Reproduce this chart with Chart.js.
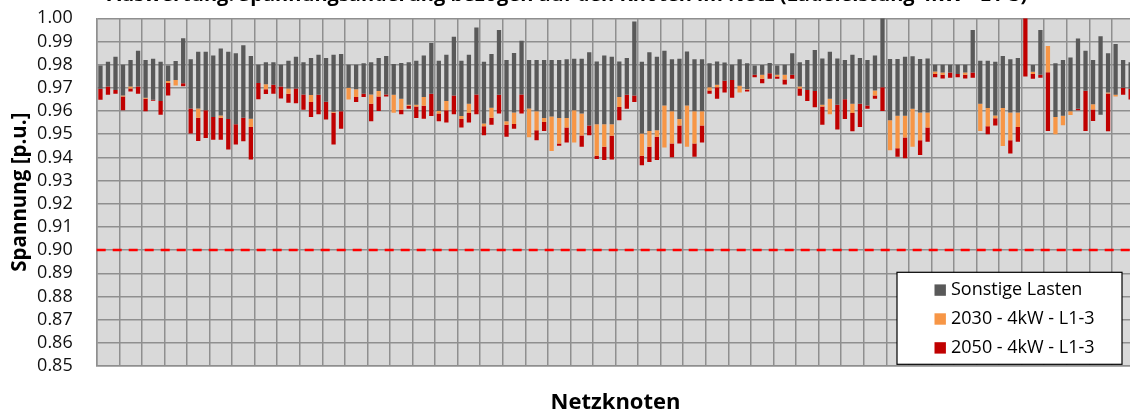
<!DOCTYPE html>
<html>
<head>
<meta charset="utf-8">
<script src="https://cdn.jsdelivr.net/npm/chart.js@4"></script>
<style>
  html, body { margin: 0; padding: 0; background: #fff; overflow: hidden; width: 1130px; height: 412px; }
  #wrap { position: absolute; left: 0; top: -20px; width: 1150px; height: 432px; }
</style>
</head>
<body>
<div id="wrap"><canvas id="chart" width="1150" height="432"></canvas></div>
<script>

// Voltage per node [p.u.]: top of the grey bar, then where each load case ends
const spannungOben = [
  0.9796, 0.9813, 0.9834, 0.9800, 0.9820, 0.9860, 0.9820, 0.9826, 0.9813, 0.9796,
  0.9816, 0.9914, 0.9823, 0.9856, 0.9856, 0.9840, 0.9870, 0.9856, 0.9849, 0.9884,
  0.9837, 0.9800, 0.9810, 0.9810, 0.9800, 0.9817, 0.9834, 0.9810, 0.9829, 0.9843,
  0.9829, 0.9843, 0.9846, 0.9800, 0.9800, 0.9806, 0.9810, 0.9829, 0.9837, 0.9803,
  0.9807, 0.9810, 0.9817, 0.9840, 0.9893, 0.9817, 0.9843, 0.9920, 0.9817, 0.9843,
  0.9960, 0.9813, 0.9846, 0.9949, 0.9820, 0.9850, 0.9903, 0.9820, 0.9820, 0.9820,
  0.9820, 0.9820, 0.9823, 0.9826, 0.9826, 0.9853, 0.9814, 0.9840, 0.9834, 0.9814,
  0.9829, 0.9986, 0.9813, 0.9853, 0.9834, 0.9860, 0.9823, 0.9826, 0.9857, 0.9823,
  0.9823, 0.9806, 0.9814, 0.9809, 0.9800, 0.9823, 0.9806, 0.9796, 0.9799, 0.9807,
  0.9796, 0.9800, 0.9849, 0.9810, 0.9820, 0.9863, 0.9827, 0.9856, 0.9827, 0.9820,
  0.9843, 0.9829, 0.9820, 0.9840, 1.0000, 0.9824, 0.9824, 0.9834, 0.9836, 0.9824,
  0.9827, 0.9800, 0.9800, 0.9800, 0.9800, 0.9800, 0.9950, 0.9817, 0.9817, 0.9813,
  0.9837, 0.9823, 0.9829, 1.0000, 0.9799, 0.9950, 0.9881, 0.9806, 0.9820, 0.9831,
  0.9913, 0.9860, 0.9820, 0.9923, 0.9849, 0.9889, 0.9820, 0.9810
];

const sonstigeBis = [
  0.9696, 0.9706, 0.9691, 0.9667, 0.9706, 0.9706, 0.9657, 0.9649, 0.9643, 0.9729,
  0.9734, 0.9720, 0.9611, 0.9611, 0.9603, 0.9574, 0.9581, 0.9566, 0.9543, 0.9571,
  0.9567, 0.9721, 0.9716, 0.9713, 0.9706, 0.9697, 0.9697, 0.9671, 0.9669, 0.9670,
  0.9640, 0.9597, 0.9599, 0.9700, 0.9694, 0.9674, 0.9671, 0.9686, 0.9671, 0.9670,
  0.9653, 0.9627, 0.9627, 0.9660, 0.9674, 0.9600, 0.9643, 0.9667, 0.9579, 0.9631,
  0.9671, 0.9546, 0.9614, 0.9670, 0.9556, 0.9594, 0.9671, 0.9611, 0.9599, 0.9570,
  0.9576, 0.9570, 0.9570, 0.9603, 0.9589, 0.9537, 0.9543, 0.9543, 0.9543, 0.9660,
  0.9670, 0.9667, 0.9503, 0.9514, 0.9517, 0.9624, 0.9599, 0.9566, 0.9624, 0.9599,
  0.9599, 0.9703, 0.9713, 0.9731, 0.9734, 0.9709, 0.9694, 0.9756, 0.9757, 0.9763,
  0.9756, 0.9757, 0.9756, 0.9706, 0.9691, 0.9686, 0.9627, 0.9653, 0.9627, 0.9651,
  0.9631, 0.9631, 0.9624, 0.9689, 0.9703, 0.9560, 0.9580, 0.9580, 0.9610, 0.9594,
  0.9594, 0.9770, 0.9766, 0.9766, 0.9760, 0.9766, 0.9766, 0.9631, 0.9613, 0.9581,
  0.9613, 0.9594, 0.9594, 1.0000, 0.9769, 0.9756, 0.9881, 0.9574, 0.9580, 0.9599,
  0.9610, 0.9687, 0.9629, 0.9584, 0.9680, 0.9670, 0.9700, 0.9696
];

const bis2030 = [
  0.9696, 0.9706, 0.9691, 0.9663, 0.9697, 0.9706, 0.9653, 0.9649, 0.9643, 0.9721,
  0.9710, 0.9720, 0.9611, 0.9571, 0.9603, 0.9574, 0.9571, 0.9566, 0.9543, 0.9571,
  0.9531, 0.9721, 0.9694, 0.9713, 0.9706, 0.9674, 0.9697, 0.9671, 0.9639, 0.9670,
  0.9640, 0.9593, 0.9599, 0.9650, 0.9660, 0.9674, 0.9631, 0.9663, 0.9671, 0.9593,
  0.9606, 0.9623, 0.9620, 0.9623, 0.9674, 0.9589, 0.9603, 0.9667, 0.9566, 0.9591,
  0.9671, 0.9534, 0.9571, 0.9670, 0.9541, 0.9544, 0.9671, 0.9487, 0.9517, 0.9553,
  0.9427, 0.9460, 0.9529, 0.9464, 0.9494, 0.9537, 0.9407, 0.9446, 0.9493, 0.9617,
  0.9670, 0.9667, 0.9407, 0.9446, 0.9489, 0.9443, 0.9460, 0.9537, 0.9446, 0.9460,
  0.9537, 0.9689, 0.9703, 0.9731, 0.9734, 0.9680, 0.9691, 0.9756, 0.9739, 0.9763,
  0.9749, 0.9736, 0.9756, 0.9697, 0.9691, 0.9686, 0.9620, 0.9586, 0.9627, 0.9651,
  0.9591, 0.9631, 0.9624, 0.9667, 0.9703, 0.9431, 0.9439, 0.9486, 0.9446, 0.9474,
  0.9529, 0.9760, 0.9756, 0.9766, 0.9760, 0.9756, 0.9766, 0.9514, 0.9534, 0.9569,
  0.9449, 0.9474, 0.9531, 1.0000, 0.9760, 0.9756, 0.9767, 0.9500, 0.9539, 0.9583,
  0.9610, 0.9687, 0.9607, 0.9584, 0.9676, 0.9663, 0.9700, 0.9696
];

const bis2050 = [
  0.9649, 0.9670, 0.9674, 0.9603, 0.9684, 0.9674, 0.9599, 0.9644, 0.9584, 0.9667,
  0.9710, 0.9707, 0.9503, 0.9471, 0.9484, 0.9476, 0.9476, 0.9434, 0.9456, 0.9470,
  0.9391, 0.9651, 0.9673, 0.9674, 0.9654, 0.9636, 0.9634, 0.9606, 0.9574, 0.9586,
  0.9563, 0.9456, 0.9524, 0.9650, 0.9639, 0.9660, 0.9556, 0.9600, 0.9663, 0.9593,
  0.9586, 0.9610, 0.9570, 0.9567, 0.9579, 0.9556, 0.9550, 0.9586, 0.9529, 0.9550,
  0.9586, 0.9496, 0.9541, 0.9589, 0.9489, 0.9524, 0.9589, 0.9487, 0.9474, 0.9514,
  0.9427, 0.9450, 0.9464, 0.9464, 0.9446, 0.9496, 0.9393, 0.9389, 0.9391, 0.9560,
  0.9610, 0.9639, 0.9366, 0.9380, 0.9389, 0.9443, 0.9401, 0.9460, 0.9446, 0.9403,
  0.9464, 0.9674, 0.9653, 0.9680, 0.9657, 0.9680, 0.9684, 0.9746, 0.9720, 0.9739,
  0.9739, 0.9714, 0.9739, 0.9666, 0.9643, 0.9616, 0.9541, 0.9586, 0.9520, 0.9566,
  0.9513, 0.9531, 0.9610, 0.9653, 0.9600, 0.9431, 0.9403, 0.9396, 0.9446, 0.9410,
  0.9467, 0.9746, 0.9740, 0.9743, 0.9746, 0.9740, 0.9743, 0.9514, 0.9500, 0.9537,
  0.9449, 0.9417, 0.9467, 0.9749, 0.9739, 0.9744, 0.9514, 0.9500, 0.9539, 0.9583,
  0.9603, 0.9514, 0.9557, 0.9584, 0.9513, 0.9663, 0.9670, 0.9650
];

const knoten = spannungOben.map((_, i) => String(i + 1));
const grenzwert = 0.90;

const ctx = document.getElementById('chart').getContext('2d');

const fontName = "'Open Sans', 'DejaVu Sans', sans-serif";

// plot background
const plotBackground = {
  id: 'plotBackground',
  beforeDraw: chart => {
    const { ctx, chartArea: a } = chart;
    ctx.save();
    ctx.fillStyle = '#d9d9d9';
    ctx.fillRect(a.left, a.top, a.right - a.left, a.bottom - a.top);
    ctx.restore();
  }
};

// red dashed 0.90 limit
const limitLine = {
  id: 'limitLine',
  afterDatasetsDraw: chart => {
    const { ctx, chartArea: a } = chart;
    const y = chart.scales.y.getPixelForValue(grenzwert);
    ctx.save();
    ctx.strokeStyle = '#ff0000';
    ctx.lineWidth = 2.5;
    ctx.setLineDash([9, 7]);
    ctx.beginPath();
    ctx.moveTo(a.left, y);
    ctx.lineTo(a.right, y);
    ctx.stroke();
    ctx.restore();
  }
};

// legend box sitting inside the plot, bottom right
const boxLegend = {
  id: 'boxLegend',
  afterDraw: chart => {
    const { ctx, chartArea: a } = chart;
    const w = 225, h = 92;
    const x = a.right - 12.4 - w;
    const y = a.bottom - 1.7 - h;
    ctx.save();
    ctx.fillStyle = '#fff';
    ctx.fillRect(x, y, w, h);
    ctx.strokeStyle = '#000';
    ctx.lineWidth = 1.2;
    ctx.strokeRect(x, y, w, h);
    ctx.font = '18px ' + fontName;
    ctx.textBaseline = 'middle';
    chart.data.datasets.forEach((ds, i) => {
      const cy = y + 17.8 + i * 28.9;
      ctx.fillStyle = ds.backgroundColor;
      ctx.fillRect(x + 37.5, cy - 5.7, 11.4, 11.4);
      ctx.fillStyle = '#000';
      ctx.fillText(ds.label, x + 54, cy);
    });
    ctx.restore();
  }
};

const gridColor = '#8f8f8f';

const chart = new Chart(ctx, {
  type: 'bar',
  data: {
    labels: knoten,
    datasets: [{
      label: 'Sonstige Lasten',
      data: spannungOben.map((v, i) => [sonstigeBis[i], v]),
      backgroundColor: '#595959'
    }, {
      label: '2030 - 4kW - L1-3',
      data: sonstigeBis.map((v, i) => [bis2030[i], v]),
      backgroundColor: '#f79646'
    }, {
      label: '2050 - 4kW - L1-3',
      data: bis2030.map((v, i) => [bis2050[i], v]),
      backgroundColor: '#c00000'
    }]
  },
  options: {
    responsive: false,
    animation: false,
    barPercentage: 0.57,
    categoryPercentage: 1,
    layout: {
      padding: { left: 0, right: 15.6, top: 0, bottom: 0 }
    },
    scales: {
      x: {
        stacked: true,
        ticks: { display: false, autoSkip: false },
        grid: {
          offset: true,
          drawTicks: false,
          lineWidth: 1.5,
          color: c => c.index % 3 === 0 ? gridColor : 'rgba(0,0,0,0)'
        },
        border: { color: gridColor, width: 1.5 },
        title: {
          display: true,
          text: 'Netzknoten',
          color: '#000',
          font: { family: fontName, size: 22, weight: 'bold', lineHeight: 0.85 },
          padding: { top: 0, bottom: 0 }
        },
        afterFit: scale => { scale.height = 46; }
      },
      y: {
        stacked: false,
        min: 0.85,
        max: 1.0,
        ticks: {
          stepSize: 0.01,
          autoSkip: false,
          padding: 24,
          color: '#111',
          font: { family: fontName, size: 18 },
          callback: v => v.toFixed(2)
        },
        grid: { drawTicks: false, lineWidth: 1.5, color: gridColor },
        border: { color: gridColor, width: 1.5 },
        title: {
          display: true,
          text: 'Spannung [p.u.]',
          color: '#000',
          font: { family: fontName, size: 20.5, weight: 'bold', lineHeight: 1 },
          padding: { top: 9.5, bottom: 0 }
        },
        afterFit: scale => { scale.width = 96.7; }
      }
    },
    plugins: {
      legend: { display: false },
      tooltip: { enabled: false },
      title: {
        display: true,
        text: 'Auswertung: Spannungsänderung bezogen auf den Knoten im Netz (Ladeleistung 4kW - L1-3)',
        color: '#000',
        font: { family: fontName, size: 20, weight: 'bold' },
        padding: { top: 3, bottom: 11.3 }
      }
    }
  },
  plugins: [plotBackground, limitLine, boxLegend]
});

</script>
</body>
</html>
